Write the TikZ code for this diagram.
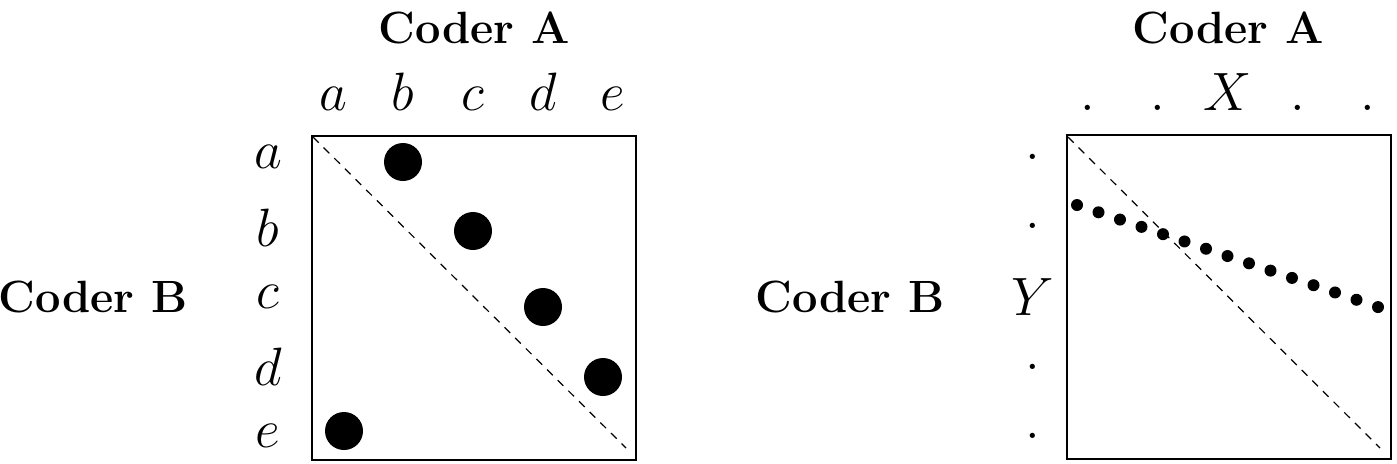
\RequirePackage{fix-cm}
\documentclass[tikz,border=0pt]{standalone}
\begin{document}
\begin{tikzpicture}[x=0.5pt,y=-0.5pt,
  title/.style={font=\fontsize{22.6}{27}\selectfont\bfseries, inner sep=0, anchor=base},
  lab/.style={font=\fontsize{27}{32}\selectfont, inner sep=0},
  bigdot/.style={circle, fill=black, minimum size=19pt, inner sep=0},
  smalldot/.style={circle, fill=black, minimum size=6pt, inner sep=0},
  frame/.style={draw=black, line width=1pt, inner sep=0, anchor=north west, minimum width=162pt, minimum height=162pt},
  diag/.style={line width=0.6pt, dash pattern=on 4pt off 3.5pt}]
\useasboundingbox (0,0) rectangle (1397,463);

% ---------- left panel ----------
\node[frame] (boxL) at (311,135) {};
\coordinate (dLs) at (313,137);
\coordinate (dLe) at (626,448);
\draw[diag] (dLs) -- (dLe);

\node[title] (caL) at (474,43) {Coder A};
\node[title] (cbL) at (93,312) {Coder B};

\node[lab, anchor=base] (ca) at (333,110) {$a$};
\node[lab, anchor=base] (cb) at (403,110) {$b$};
\node[lab, anchor=base] (cc) at (473,110) {$c$};
\node[lab, anchor=base] (cd) at (543,110) {$d$};
\node[lab, anchor=base] (ce) at (613,110) {$e$};

\node[lab] (ra) at (268,157) {$a$};
\node[lab] (rb) at (268,228) {$b$};
\node[lab] (rc) at (268,297) {$c$};
\node[lab] (rd) at (268,367) {$d$};
\node[lab] (re) at (268,436) {$e$};

\node[bigdot] (p1) at (403,162) {};
\node[bigdot] (p2) at (473,231) {};
\node[bigdot] (p3) at (543,307) {};
\node[bigdot] (p4) at (603,377) {};
\node[bigdot] (p5) at (344,431) {};

% ---------- right panel ----------
\node[frame] (boxR) at (1066,134) {};
\coordinate (dRs) at (1068,137);
\coordinate (dRe) at (1380,448);
\draw[diag] (dRs) -- (dRe);

\node[title] (caR) at (1228,43) {Coder A};
\node[title] (cbR) at (850,312) {Coder B};

\node[lab, anchor=base] (t1) at (1088,110) {$.$};
\node[lab, anchor=base] (t2) at (1158,110) {$.$};
\node[lab, anchor=base] (tX) at (1228,110) {$X$};
\node[lab, anchor=base] (t4) at (1298,110) {$.$};
\node[lab, anchor=base] (t5) at (1368,110) {$.$};

\node[lab] (l1) at (1033,157) {$.$};
\node[lab] (l2) at (1033,226) {$.$};
\node[lab] (lY) at (1033,297) {$Y$};
\node[lab] (l4) at (1033,367) {$.$};
\node[lab] (l5) at (1033,436) {$.$};

\foreach \i in {0,...,14}
  \node[smalldot] (r\i) at ({1077+21.5*\i},{205+7.29*\i}) {};
\end{tikzpicture}
\end{document}
